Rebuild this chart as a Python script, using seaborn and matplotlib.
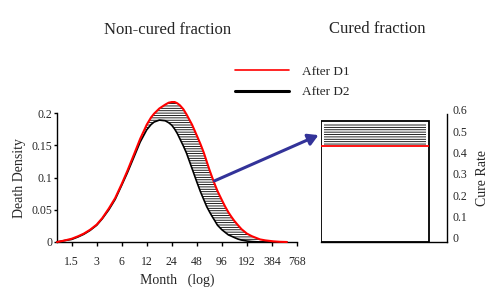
import numpy as np
import pandas as pd
import matplotlib
matplotlib.use("Agg")
import matplotlib.pyplot as plt
import seaborn as sns
from matplotlib.patches import FancyArrowPatch
from matplotlib.lines import Line2D
import matplotlib.transforms as mtransforms

# death density over time (months, log scale)
months = [1, 1.2, 1.5, 1.8, 2.1, 2.5, 3, 3.5, 4.2, 5, 6, 7, 8.5, 10, 12, 13.5, 14.7,
          17, 20, 22, 24, 26, 28, 30, 33, 36, 42, 48, 53, 58, 63, 68, 73, 78, 85,
          96, 105, 115, 125, 135, 150, 165, 192, 220, 276, 320, 400, 480, 580]
dens_d1 = [0, 0.002, 0.005, 0.009, 0.013, 0.019, 0.027, 0.037, 0.052, 0.068, 0.090,
           0.110, 0.137, 0.160, 0.182, 0.193, 0.199, 0.207, 0.213, 0.216, 0.217,
           0.217, 0.215, 0.212, 0.206, 0.198, 0.182, 0.165, 0.152, 0.139, 0.125,
           0.112, 0.101, 0.091, 0.079, 0.065, 0.055, 0.046, 0.039, 0.033, 0.026,
           0.020, 0.013, 0.009, 0.004, 0.0025, 0.001, 0.0003, 0]
dens_d2 = [0, 0.002, 0.004, 0.008, 0.012, 0.018, 0.026, 0.036, 0.050, 0.066, 0.088,
           0.107, 0.133, 0.155, 0.174, 0.182, 0.186, 0.189, 0.188, 0.185, 0.181,
           0.175, 0.168, 0.160, 0.149, 0.138, 0.114, 0.093, 0.078, 0.066, 0.055,
           0.047, 0.040, 0.034, 0.026, 0.019, 0.015, 0.011, 0.009, 0.007, 0.0045,
           0.003, 0.0015, 0.0007, 0, 0, 0, 0, 0]
xtick_vals = [1.5, 3, 6, 12, 24, 48, 96, 192, 384, 768]
xtick_labels = ["1.5", "3", "6", "12", "24", "48", "96", "192", "384", "768"]

# cure rate
cure_d1 = 0.45
cure_d2 = 0.565
labels = ["After D1", "After D2"]

sns.set_style("white")
plt.rcParams["font.family"] = ["Liberation Serif", "DejaVu Serif"]
plt.rcParams["hatch.linewidth"] = 0.6
plt.rcParams["hatch.color"] = "black"

fig = plt.figure(figsize=(5, 2.94), dpi=100)
W, H = 500, 294

def box(l, t, r, b):
    return [l / W, 1 - b / H, (r - l) / W, (b - t) / H]

ax = fig.add_axes(box(57, 113, 297, 242))
df = pd.DataFrame({"month": months, "d1": dens_d1, "d2": dens_d2})

ax.fill_between(df["month"], df["d2"], df["d1"], facecolor="white",
                edgecolor="black", hatch="-------", linewidth=0, clip_on=False)
sns.lineplot(data=df, x="month", y="d2", ax=ax, color="black", lw=1.2,
             clip_on=False, zorder=3)
sns.lineplot(data=df, x="month", y="d1", ax=ax, color="#ff0000", lw=1.5,
             clip_on=False, zorder=4)
ax.set_xscale("log", base=2)
ax.set_xlim(1, 768)
ax.set_ylim(0, 0.2)
ax.set_xticks(xtick_vals)
ax.set_xticklabels(xtick_labels)
ax.minorticks_off()
ax.set_yticks([0, 0.05, 0.1, 0.15, 0.2])
ax.set_yticklabels(["0", "0.05", "0.1", "0.15", "0.2"])
for s in ["top", "right"]:
    ax.spines[s].set_visible(False)
for s in ["left", "bottom"]:
    ax.spines[s].set_color("black")
    ax.spines[s].set_linewidth(1.0)
ax.tick_params(axis="x", direction="out", length=3, width=1, pad=7, labelsize=8.5,
               bottom=True, color="black")
ax.tick_params(axis="y", direction="out", length=2.5, width=1, pad=1, labelsize=8.5,
               left=True, color="black")
ax.set_xlabel("Month   (log)", fontsize=10, labelpad=4)
ax.set_ylabel("Death Density", fontsize=10, labelpad=4)

# cured fraction panel
ax2 = fig.add_axes(box(321, 114, 447, 242))
ax2.bar([0], [cure_d2], width=1, align="edge", facecolor="white",
        edgecolor="black", linewidth=1.3, zorder=2)
ax2.bar([0.03], [cure_d2 - cure_d1 - 0.01], bottom=cure_d1, width=0.94,
        align="edge", facecolor="white", edgecolor="black", hatch="-------",
        linewidth=0, zorder=3)
ax2.hlines(cure_d1, 0, 1, color="#ff0000", lw=1.3, zorder=4)
ax2.set_xlim(0, 126 / 108)
ax2.set_ylim(0, 0.6)
ax2.set_xticks([])
ax2.yaxis.tick_right()
ax2.set_yticks(np.arange(0, 0.61, 0.1))
ax2.set_yticklabels(["0", "0.1", "0.2", "0.3", "0.4", "0.5", "0.6"])
ax2.set_yticks([0, 0.3, 0.6], minor=True)
ax2.tick_params(axis="y", which="major", length=0, pad=4, labelsize=8.5, right=False)
ax2.tick_params(axis="y", which="minor", length=3, width=1, right=True, color="black")
offset = mtransforms.ScaledTranslation(0, 4 / 100, fig.dpi_scale_trans)
for lab in ax2.get_yticklabels():
    lab.set_transform(lab.get_transform() + offset)
for s in ["top", "left"]:
    ax2.spines[s].set_visible(False)
for s in ["right", "bottom"]:
    ax2.spines[s].set_color("black")
    ax2.spines[s].set_linewidth(1.0)
ax2.set_ylabel("Cure Rate", fontsize=10, rotation=90, va="center", ha="center")
ax2.yaxis.set_label_coords((483 - 321) / 126, 0.5)

# titles
fig.text(168 / W, 1 - 30 / H, "Non-cured fraction", ha="center", va="center", fontsize=12)
fig.text(377 / W, 1 - 29 / H, "Cured fraction", ha="center", va="center", fontsize=12)

# legend
handles = [Line2D([], [], color="#ff0000", lw=1.2), Line2D([], [], color="black", lw=2.2)]
fig.legend(handles, labels, loc="center left", bbox_to_anchor=(235 / W, 1 - 82 / H),
           frameon=False, fontsize=9.5, handlelength=4.1, handletextpad=1.0,
           labelspacing=0.6, borderpad=0, borderaxespad=0)

# arrow
arrow = FancyArrowPatch((212 / W, 1 - 182 / H), (321 / W, 1 - 134 / H),
                        transform=fig.transFigure, arrowstyle="-|>,head_length=6,head_width=3.5",
                        color="#333399", lw=2.2, mutation_scale=1, zorder=10)
fig.add_artist(arrow)

fig.savefig("out.png", dpi=100)
